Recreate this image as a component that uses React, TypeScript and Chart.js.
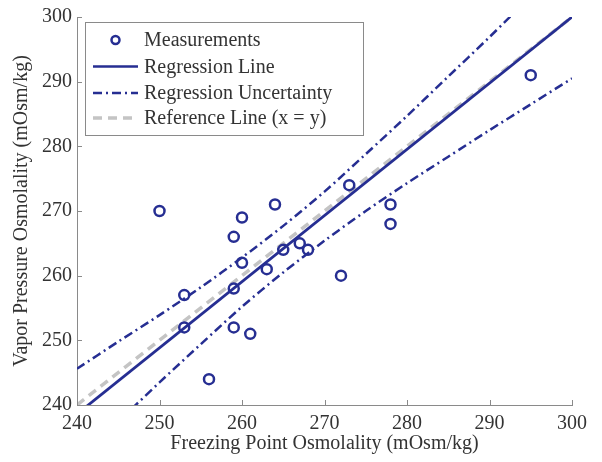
import React, { useEffect, useRef } from "react";
import { Chart, registerables } from "chart.js";

Chart.register(...registerables);

// ---- data ----
const measX = [250, 253, 253, 256, 259, 259, 259, 260, 260, 261, 263, 264, 265, 267, 268, 272, 273, 278, 278, 295];
const measY = [270, 257, 252, 244, 266, 258, 252, 269, 262, 251, 261, 271, 264, 265, 264, 260, 274, 271, 268, 291];

const lineX = [240, 300];
const regressionY = [238.6, 300];
const referenceY = [240, 300];

const bandX = [240, 245, 250, 255, 260, 265, 270, 275, 280, 285, 290, 295, 300];
const upperY = [245.6, 249.8, 253.9, 258.2, 262.8, 267.7, 273.0, 278.8, 284.7, 290.8, 296.9, 303.2, 309.5];
const lowerY = [231.2, 237.4, 243.5, 249.4, 255.2, 260.5, 265.4, 270.0, 274.3, 278.4, 282.5, 286.5, 290.5];

const xTicks = [240, 250, 260, 270, 280, 290, 300];
const yTicks = [240, 250, 260, 270, 280, 290, 300];

const legendLabels = ["Measurements", "Regression Line", "Regression Uncertainty", "Reference Line (x = y)"];

const BLUE = "#262e92";
const GRAY_LINE = "#c4c4c4";
const AXIS = "#8a8a8a";
const TEXT = "#333333";
const FONT_FAMILY = "'Liberation Serif', 'Times New Roman', serif";
const DASH_DOT = [9, 4, 2, 4];
const DASH = [9, 6];

const zip = (xs: number[], ys: number[]) => xs.map((x, i) => ({ x, y: ys[i] }));

const inwardTicks = {
  id: "inwardTicks",
  afterDatasetsDraw(chart: any) {
    const { ctx, chartArea, scales } = chart;
    ctx.save();
    ctx.strokeStyle = AXIS;
    ctx.lineWidth = 1;
    ctx.beginPath();
    xTicks.forEach((v) => {
      const px = Math.round(scales.x.getPixelForValue(v)) + 0.5;
      ctx.moveTo(px, chartArea.bottom);
      ctx.lineTo(px, chartArea.bottom - 5);
    });
    yTicks.forEach((v) => {
      const py = Math.round(scales.y.getPixelForValue(v)) + 0.5;
      ctx.moveTo(chartArea.left, py);
      ctx.lineTo(chartArea.left + 5, py);
    });
    ctx.stroke();
    ctx.restore();
  },
};

const customLegend = {
  id: "customLegend",
  afterDraw(chart: any) {
    const { ctx, chartArea } = chart;
    const bx = chartArea.left + 8;
    const by = chartArea.top + 5;
    const bw = 278;
    const bh = 113;
    ctx.save();
    ctx.fillStyle = "#ffffff";
    ctx.fillRect(bx, by, bw, bh);
    ctx.strokeStyle = AXIS;
    ctx.lineWidth = 1;
    ctx.strokeRect(bx + 0.5, by + 0.5, bw, bh);
    const rows = [18, 44.5, 71, 96];
    const sx0 = bx + 8;
    const sx1 = bx + 53;
    const tx = bx + 59;
    ctx.font = `20px ${FONT_FAMILY}`;
    ctx.textBaseline = "middle";
    rows.forEach((dy, i) => {
      const y = by + dy;
      ctx.save();
      if (i === 0) {
        ctx.strokeStyle = BLUE;
        ctx.lineWidth = 2.5;
        ctx.beginPath();
        ctx.arc((sx0 + sx1) / 2, y, 4, 0, Math.PI * 2);
        ctx.stroke();
      } else {
        ctx.beginPath();
        if (i === 1) {
          ctx.strokeStyle = BLUE;
          ctx.lineWidth = 2.5;
          ctx.setLineDash([]);
        } else if (i === 2) {
          ctx.strokeStyle = BLUE;
          ctx.lineWidth = 2.5;
          ctx.setLineDash(DASH_DOT);
        } else {
          ctx.strokeStyle = GRAY_LINE;
          ctx.lineWidth = 3.5;
          ctx.setLineDash(DASH);
        }
        ctx.moveTo(sx0, y);
        ctx.lineTo(sx1, y);
        ctx.stroke();
      }
      ctx.restore();
      ctx.fillStyle = TEXT;
      ctx.fillText(legendLabels[i], tx, y + 1);
    });
    ctx.restore();
  },
};

export default function App() {
  const canvasRef = useRef<HTMLCanvasElement | null>(null);

  useEffect(() => {
    const canvas = canvasRef.current;
    if (!canvas) return;
    const tickFont = { family: FONT_FAMILY, size: 20 };
    const chart = new Chart(canvas, {
      type: "scatter",
      data: {
        datasets: [
          {
            label: legendLabels[0],
            data: zip(measX, measY),
            showLine: false,
            pointStyle: "circle",
            pointRadius: 5,
            pointBorderWidth: 2.5,
            pointBorderColor: BLUE,
            pointBackgroundColor: "rgba(0,0,0,0)",
            order: 0,
          },
          {
            label: legendLabels[1],
            data: zip(lineX, regressionY),
            showLine: true,
            borderColor: BLUE,
            borderWidth: 2.8,
            pointRadius: 0,
            order: 1,
          },
          {
            label: legendLabels[2],
            data: zip(bandX, upperY),
            showLine: true,
            borderColor: BLUE,
            borderWidth: 2.5,
            borderDash: DASH_DOT,
            pointRadius: 0,
            tension: 0.3,
            order: 2,
          },
          {
            label: "lower",
            data: zip(bandX, lowerY),
            showLine: true,
            borderColor: BLUE,
            borderWidth: 2.5,
            borderDash: DASH_DOT,
            pointRadius: 0,
            tension: 0.3,
            order: 2,
          },
          {
            label: legendLabels[3],
            data: zip(lineX, referenceY),
            showLine: true,
            borderColor: GRAY_LINE,
            borderWidth: 3.5,
            borderDash: DASH,
            pointRadius: 0,
            order: 3,
          },
        ],
      },
      options: {
        animation: false,
        responsive: false,
        maintainAspectRatio: false,
        layout: { padding: { top: 14, right: 30, left: 0, bottom: 0 } },
        plugins: {
          legend: { display: false },
          tooltip: { enabled: false },
        },
        scales: {
          x: {
            type: "linear",
            min: 240,
            max: 300,
            afterFit: (s: any) => {
              s.height = 57;
            },
            afterBuildTicks: (s: any) => {
              s.ticks = xTicks.map((v) => ({ value: v }));
            },
            ticks: { font: tickFont, color: TEXT, padding: 7, maxRotation: 0 },
            grid: { display: false, drawTicks: false },
            border: { display: true, color: AXIS, width: 1 },
            title: {
              display: true,
              text: "Freezing Point Osmolality (mOsm/kg)",
              font: tickFont,
              color: TEXT,
              padding: { top: 0, bottom: 6 },
            },
          },
          y: {
            type: "linear",
            min: 240,
            max: 300,
            afterFit: (s: any) => {
              s.width = 77;
            },
            afterBuildTicks: (s: any) => {
              s.ticks = yTicks.map((v) => ({ value: v }));
            },
            ticks: { font: tickFont, color: TEXT, padding: 5 },
            grid: { display: false, drawTicks: false },
            border: { display: true, color: AXIS, width: 1 },
            title: {
              display: true,
              text: "Vapor Pressure Osmolality (mOsm/kg)",
              font: tickFont,
              color: TEXT,
              padding: { top: 10, bottom: 0 },
            },
          },
        },
      },
      plugins: [inwardTicks, customLegend],
    } as any);
    return () => chart.destroy();
  }, []);

  return (
    <div style={{ position: "fixed", left: 0, top: 0, width: 602, height: 462, background: "#ffffff" }}>
      <canvas ref={canvasRef} width={602} height={462} style={{ width: 602, height: 462, display: "block" }} />
    </div>
  );
}
